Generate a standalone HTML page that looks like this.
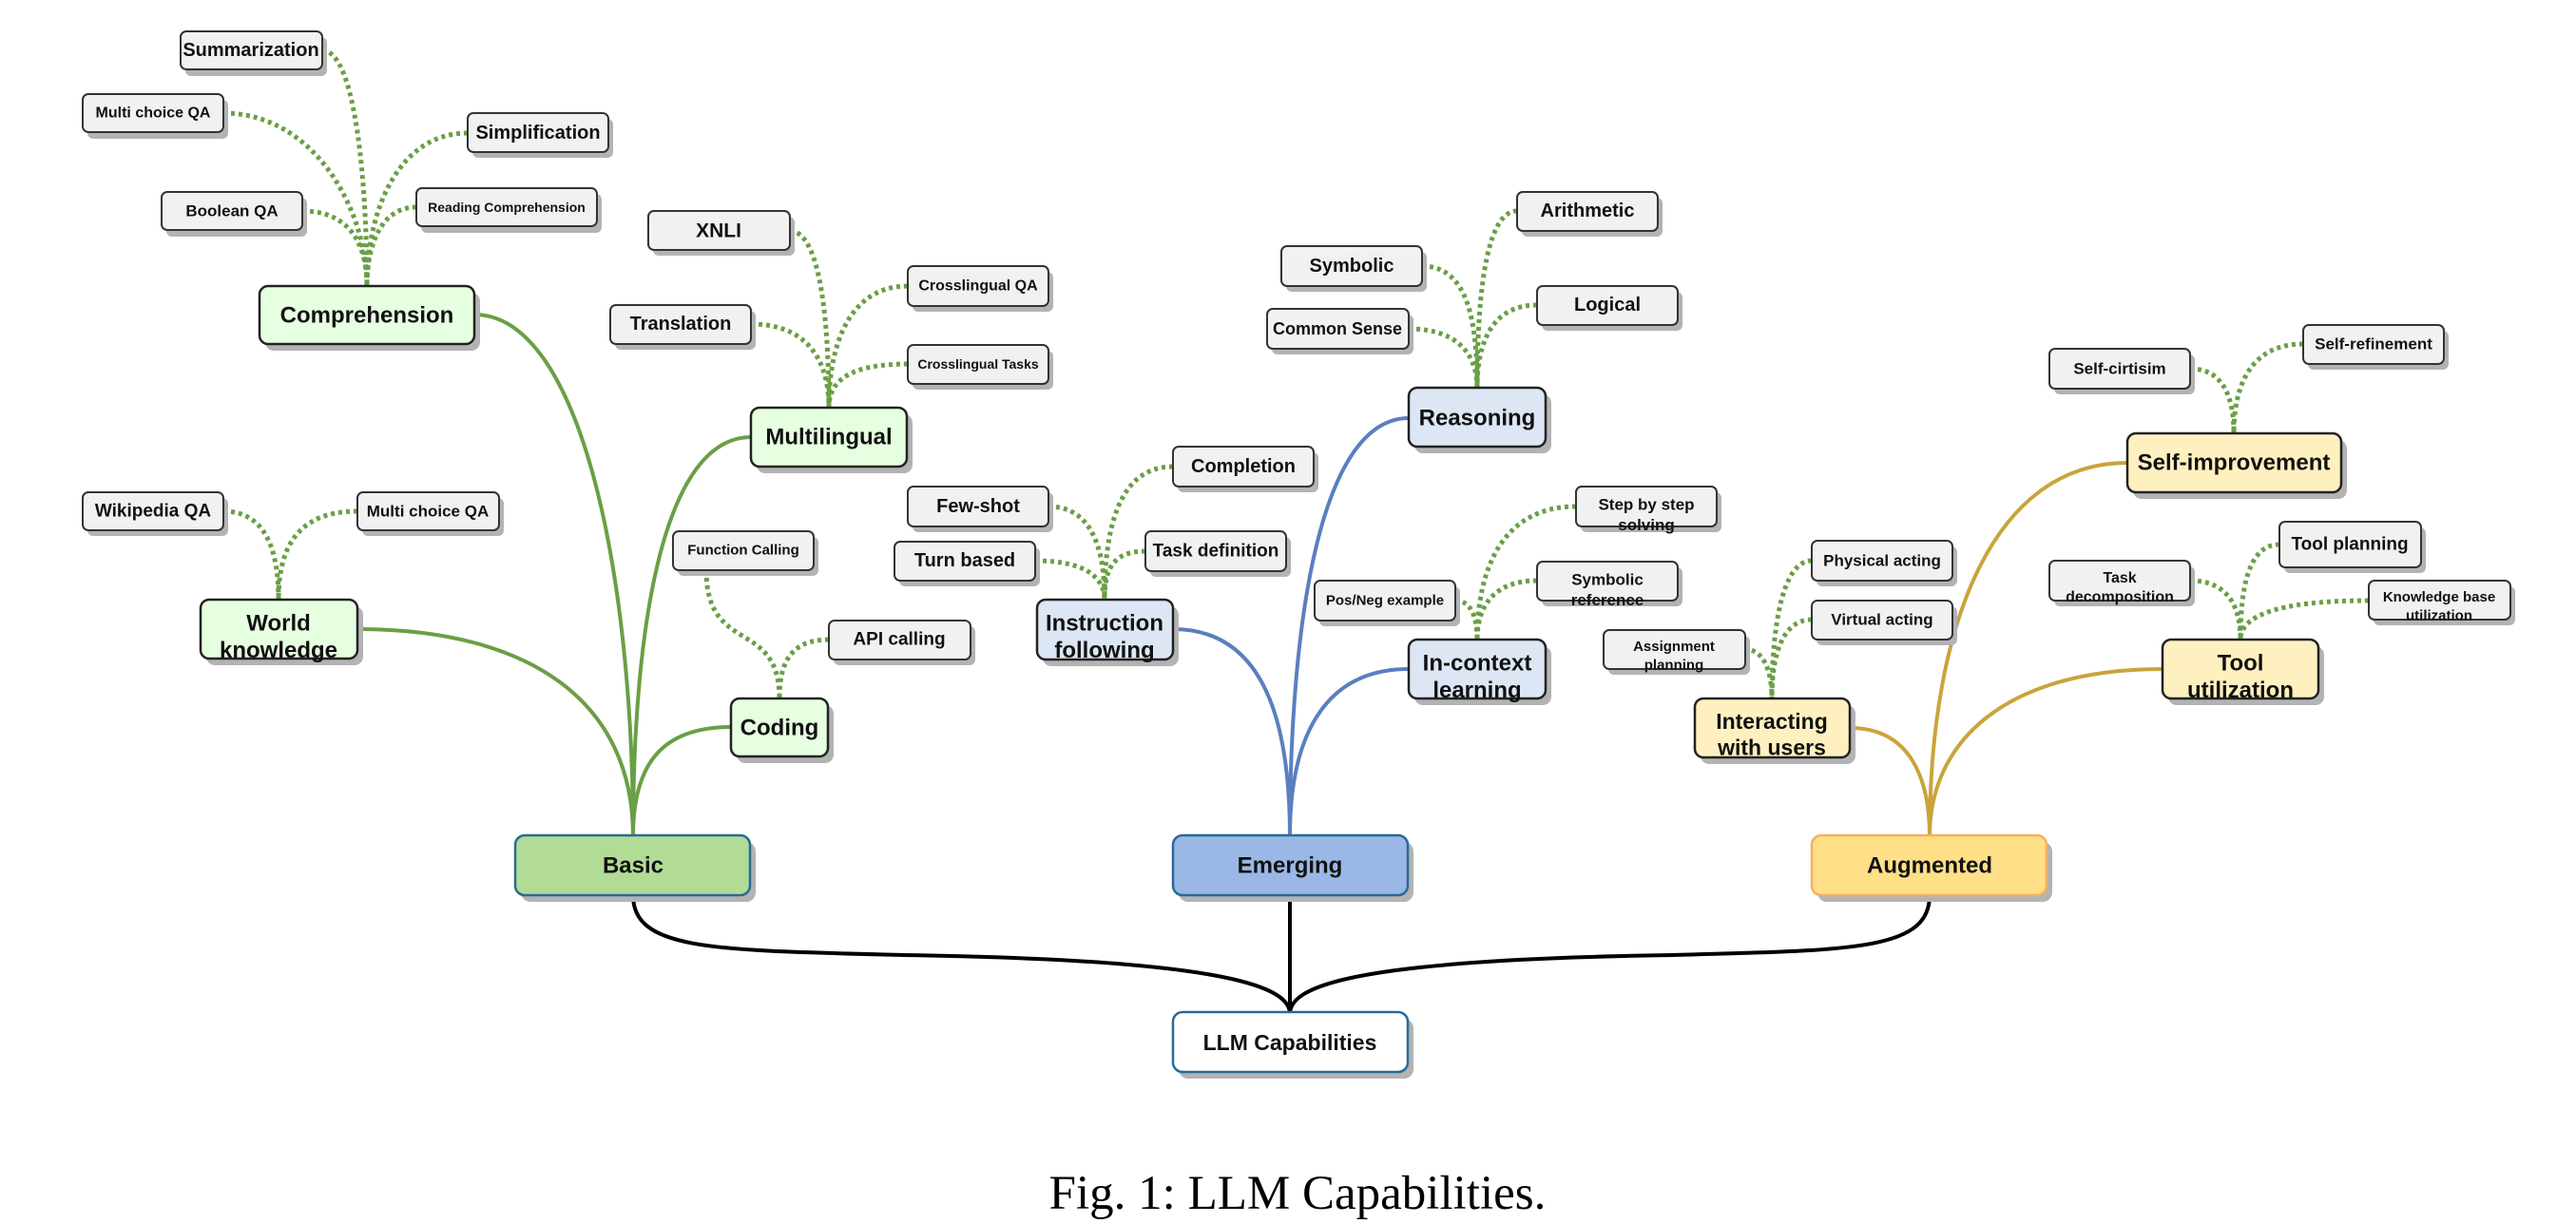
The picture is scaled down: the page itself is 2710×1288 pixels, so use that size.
<!DOCTYPE html>
<html><head><meta charset="utf-8"><style>
html,body{margin:0;padding:0;background:#fff;}
svg{display:block;}
text{font-family:"Liberation Sans",Arial,sans-serif;font-weight:bold;fill:#111;text-anchor:middle;dominant-baseline:central;}
.lf{fill:#f1f1f1;stroke:#333;stroke-width:2;}
.sh{fill:#b3b3b3;}
.g2{fill:#e6ffe0;stroke:#222;stroke-width:2.5;}
.b2{fill:#dde6f4;stroke:#222;stroke-width:2.5;}
.y2{fill:#fff0c0;stroke:#222;stroke-width:2.5;}
.dg{fill:none;stroke:#6a9f45;stroke-width:5;stroke-dasharray:4 4;}
.sg{fill:none;stroke:#6a9f45;stroke-width:4;}
.sb{fill:none;stroke:#5a7fbf;stroke-width:4;}
.sy{fill:none;stroke:#c9a43a;stroke-width:4;}
.k{fill:none;stroke:#000;stroke-width:4;}
</style></head><body>
<svg width="2710" height="1288" viewBox="0 0 2710 1288" xmlns="http://www.w3.org/2000/svg">

<!-- solid connectors -->
<path class="sg" d="M499 331 C610 331 666 600 666 880"/>
<path class="sg" d="M790 460 C700 460 666 650 666 880"/>
<path class="sg" d="M376 662 C560 662 666 740 666 880"/>
<path class="sg" d="M769 765 C700 765 666 800 666 880"/>
<path class="sb" d="M1482 440 C1390 440 1357 650 1357 880"/>
<path class="sb" d="M1234 662 C1330 662 1357 760 1357 880"/>
<path class="sb" d="M1482 704 C1390 704 1357 780 1357 880"/>
<path class="sy" d="M2238 487 C2100 487 2030 650 2030 880"/>
<path class="sy" d="M1946 766 C2010 766 2030 820 2030 880"/>
<path class="sy" d="M2275 704 C2110 704 2030 780 2030 880"/>
<path class="k" d="M666 942 C666 1000 750 1000 950 1005 C1300 1010 1357 1040 1357 1067"/>
<path class="k" d="M1357 942 L1357 1067"/>
<path class="k" d="M2030 942 C2030 1000 1950 1000 1760 1005 C1410 1010 1357 1040 1357 1067"/>

<!-- dotted connectors -->
<path class="dg" d="M339 53 C375 53 386 200 386 301"/>
<path class="dg" d="M235 119 C330 119 386 220 386 301"/>
<path class="dg" d="M492 140 C420 140 386 220 386 301"/>
<path class="dg" d="M318 222 C370 222 386 260 386 301"/>
<path class="dg" d="M438 218 C400 218 386 260 386 301"/>
<path class="dg" d="M831 243 C865 243 872 350 872 429"/>
<path class="dg" d="M790 341 C850 341 872 380 872 429"/>
<path class="dg" d="M955 301 C895 301 872 360 872 429"/>
<path class="dg" d="M955 383 C895 383 872 400 872 429"/>
<path class="dg" d="M235 538 C280 538 293 580 293 631"/>
<path class="dg" d="M376 538 C310 538 293 580 293 631"/>
<path class="dg" d="M743 600 C743 690 820 650 820 735"/>
<path class="dg" d="M872 673 C830 673 820 700 820 735"/>
<path class="dg" d="M1103 533 C1150 533 1162 580 1162 631"/>
<path class="dg" d="M1089 590 C1145 590 1162 610 1162 631"/>
<path class="dg" d="M1234 491 C1175 491 1162 560 1162 631"/>
<path class="dg" d="M1205 580 C1170 580 1162 600 1162 631"/>
<path class="dg" d="M1596 222 C1560 222 1554 330 1554 408"/>
<path class="dg" d="M1496 280 C1545 280 1554 340 1554 408"/>
<path class="dg" d="M1617 321 C1570 321 1554 360 1554 408"/>
<path class="dg" d="M1482 346 C1540 346 1554 380 1554 408"/>
<path class="dg" d="M1658 533 C1580 533 1554 600 1554 673"/>
<path class="dg" d="M1617 611 C1570 611 1554 640 1554 673"/>
<path class="dg" d="M1531 632 C1548 632 1554 650 1554 673"/>
<path class="dg" d="M1906 590 C1875 590 1864 660 1864 735"/>
<path class="dg" d="M1906 652 C1875 652 1864 690 1864 735"/>
<path class="dg" d="M1835 683 C1855 683 1864 705 1864 735"/>
<path class="dg" d="M2304 388 C2340 388 2350 420 2350 456"/>
<path class="dg" d="M2423 362 C2365 362 2350 410 2350 456"/>
<path class="dg" d="M2398 573 C2365 573 2357 620 2357 673"/>
<path class="dg" d="M2304 611 C2345 611 2357 640 2357 673"/>
<path class="dg" d="M2492 632 C2390 632 2357 650 2357 673"/>

<!-- leaves -->
<g>
<rect class="sh" x="195" y="39" width="149" height="41" rx="6"/><rect class="lf" x="190" y="33" width="149" height="40" rx="6"/><text x="264" y="53" font-size="20">Summarization</text>
<rect class="sh" x="92" y="105" width="148" height="41" rx="6"/><rect class="lf" x="87" y="99" width="148" height="40" rx="6"/><text x="161" y="119" font-size="16">Multi choice QA</text>
<rect class="sh" x="497" y="125" width="148" height="41" rx="6"/><rect class="lf" x="492" y="119" width="148" height="41" rx="6"/><text x="566" y="140" font-size="20">Simplification</text>
<rect class="sh" x="175" y="208" width="148" height="41" rx="6"/><rect class="lf" x="170" y="202" width="148" height="40" rx="6"/><text x="244" y="222" font-size="17">Boolean QA</text>
<rect class="sh" x="443" y="204" width="190" height="41" rx="6"/><rect class="lf" x="438" y="198" width="190" height="40" rx="6"/><text x="533" y="218" font-size="14">Reading Comprehension</text>
<rect class="sh" x="687" y="228" width="149" height="41" rx="6"/><rect class="lf" x="682" y="222" width="149" height="41" rx="6"/><text x="756" y="243" font-size="21">XNLI</text>
<rect class="sh" x="647" y="327" width="148" height="41" rx="6"/><rect class="lf" x="642" y="321" width="148" height="41" rx="6"/><text x="716" y="341" font-size="20">Translation</text>
<rect class="sh" x="960" y="286" width="148" height="42" rx="6"/><rect class="lf" x="955" y="280" width="148" height="42" rx="6"/><text x="1029" y="301" font-size="16">Crosslingual QA</text>
<rect class="sh" x="960" y="369" width="148" height="41" rx="6"/><rect class="lf" x="955" y="363" width="148" height="41" rx="6"/><text x="1029" y="383" font-size="14">Crosslingual Tasks</text>
<rect class="sh" x="92" y="524" width="148" height="40" rx="6"/><rect class="lf" x="87" y="518" width="148" height="40" rx="6"/><text x="161" y="538" font-size="19">Wikipedia QA</text>
<rect class="sh" x="381" y="524" width="149" height="40" rx="6"/><rect class="lf" x="376" y="518" width="149" height="40" rx="6"/><text x="450" y="538" font-size="17">Multi choice QA</text>
<rect class="sh" x="713" y="565" width="148" height="41" rx="6"/><rect class="lf" x="708" y="559" width="148" height="41" rx="6"/><text x="782" y="579" font-size="15">Function Calling</text>
<rect class="sh" x="877" y="659" width="149" height="41" rx="6"/><rect class="lf" x="872" y="653" width="149" height="41" rx="6"/><text x="946" y="673" font-size="19">API calling</text>
<rect class="sh" x="1239" y="476" width="148" height="42" rx="6"/><rect class="lf" x="1234" y="470" width="148" height="42" rx="6"/><text x="1308" y="491" font-size="20">Completion</text>
<rect class="sh" x="960" y="518" width="148" height="42" rx="6"/><rect class="lf" x="955" y="512" width="148" height="42" rx="6"/><text x="1029" y="533" font-size="20">Few-shot</text>
<rect class="sh" x="1210" y="565" width="148" height="42" rx="6"/><rect class="lf" x="1205" y="559" width="148" height="42" rx="6"/><text x="1279" y="580" font-size="19">Task definition</text>
<rect class="sh" x="946" y="576" width="148" height="41" rx="6"/><rect class="lf" x="941" y="570" width="148" height="41" rx="6"/><text x="1015" y="590" font-size="20">Turn based</text>
<rect class="sh" x="1601" y="208" width="148" height="41" rx="6"/><rect class="lf" x="1596" y="202" width="148" height="41" rx="6"/><text x="1670" y="222" font-size="20">Arithmetic</text>
<rect class="sh" x="1353" y="265" width="148" height="42" rx="6"/><rect class="lf" x="1348" y="259" width="148" height="42" rx="6"/><text x="1422" y="280" font-size="20">Symbolic</text>
<rect class="sh" x="1622" y="307" width="148" height="41" rx="6"/><rect class="lf" x="1617" y="301" width="148" height="41" rx="6"/><text x="1691" y="321" font-size="20">Logical</text>
<rect class="sh" x="1338" y="331" width="149" height="42" rx="6"/><rect class="lf" x="1333" y="325" width="149" height="42" rx="6"/><text x="1407" y="346" font-size="18">Common Sense</text>
<rect class="sh" x="1663" y="518" width="148" height="42" rx="6"/><rect class="lf" x="1658" y="512" width="148" height="42" rx="6"/><text x="1732" y="522" font-size="17" dominant-baseline="auto" dy="0"><tspan x="1732" dy="0.5em">Step by step</tspan><tspan x="1732" dy="1.25em">solving</tspan></text>
<rect class="sh" x="1622" y="597" width="148" height="41" rx="6"/><rect class="lf" x="1617" y="591" width="148" height="41" rx="6"/><text x="1691" y="601" font-size="17" dominant-baseline="auto"><tspan x="1691" dy="0.5em">Symbolic</tspan><tspan x="1691" dy="1.25em">reference</tspan></text>
<rect class="sh" x="1388" y="617" width="148" height="42" rx="6"/><rect class="lf" x="1383" y="611" width="148" height="42" rx="6"/><text x="1457" y="632" font-size="15">Pos/Neg example</text>
<rect class="sh" x="1692" y="669" width="149" height="41" rx="6"/><rect class="lf" x="1687" y="663" width="149" height="41" rx="6"/><text x="1761" y="673" font-size="15" dominant-baseline="auto"><tspan x="1761" dy="0.45em">Assignment</tspan><tspan x="1761" dy="1.3em">planning</tspan></text>
<rect class="sh" x="1911" y="575" width="148" height="42" rx="6"/><rect class="lf" x="1906" y="569" width="148" height="42" rx="6"/><text x="1980" y="590" font-size="17">Physical acting</text>
<rect class="sh" x="1911" y="638" width="148" height="41" rx="6"/><rect class="lf" x="1906" y="632" width="148" height="41" rx="6"/><text x="1980" y="652" font-size="17">Virtual acting</text>
<rect class="sh" x="2161" y="373" width="148" height="42" rx="6"/><rect class="lf" x="2156" y="367" width="148" height="42" rx="6"/><text x="2230" y="388" font-size="17">Self-cirtisim</text>
<rect class="sh" x="2428" y="348" width="148" height="41" rx="6"/><rect class="lf" x="2423" y="342" width="148" height="41" rx="6"/><text x="2497" y="362" font-size="17">Self-refinement</text>
<rect class="sh" x="2403" y="555" width="149" height="48" rx="6"/><rect class="lf" x="2398" y="549" width="149" height="48" rx="6"/><text x="2472" y="573" font-size="19">Tool planning</text>
<rect class="sh" x="2161" y="596" width="148" height="42" rx="6"/><rect class="lf" x="2156" y="590" width="148" height="42" rx="6"/><text x="2230" y="600" font-size="16" dominant-baseline="auto"><tspan x="2230" dy="0.5em">Task</tspan><tspan x="2230" dy="1.25em">decomposition</tspan></text>
<rect class="sh" x="2497" y="617" width="149" height="41" rx="6"/><rect class="lf" x="2492" y="611" width="149" height="41" rx="6"/><text x="2566" y="621" font-size="15" dominant-baseline="auto"><tspan x="2566" dy="0.45em">Knowledge base</tspan><tspan x="2566" dy="1.3em">utilization</tspan></text>
</g>

<!-- level 2 -->
<g>
<rect class="sh" x="279" y="308" width="226" height="61" rx="9"/><rect class="g2" x="273" y="301" width="226" height="61" rx="9"/><text x="386" y="332" font-size="24">Comprehension</text>
<rect class="sh" x="796" y="436" width="164" height="62" rx="9"/><rect class="g2" x="790" y="429" width="164" height="62" rx="9"/><text x="872" y="460" font-size="24">Multilingual</text>
<rect class="sh" x="217" y="638" width="165" height="62" rx="9"/><rect class="g2" x="211" y="631" width="165" height="62" rx="9"/><text x="293" y="647" font-size="24" dominant-baseline="auto"><tspan x="293" dy="0.35em">World</tspan><tspan x="293" dy="1.2em">knowledge</tspan></text>
<rect class="sh" x="775" y="742" width="102" height="61" rx="9"/><rect class="g2" x="769" y="735" width="102" height="61" rx="9"/><text x="820" y="766" font-size="24">Coding</text>
<rect class="sh" x="1488" y="415" width="144" height="62" rx="9"/><rect class="b2" x="1482" y="408" width="144" height="62" rx="9"/><text x="1554" y="440" font-size="24">Reasoning</text>
<rect class="sh" x="1097" y="638" width="143" height="63" rx="9"/><rect class="b2" x="1091" y="631" width="143" height="63" rx="9"/><text x="1162" y="647" font-size="24" dominant-baseline="auto"><tspan x="1162" dy="0.35em">Instruction</tspan><tspan x="1162" dy="1.2em">following</tspan></text>
<rect class="sh" x="1488" y="680" width="144" height="62" rx="9"/><rect class="b2" x="1482" y="673" width="144" height="62" rx="9"/><text x="1554" y="689" font-size="24" dominant-baseline="auto"><tspan x="1554" dy="0.35em">In-context</tspan><tspan x="1554" dy="1.2em">learning</tspan></text>
<rect class="sh" x="1789" y="742" width="163" height="62" rx="9"/><rect class="y2" x="1783" y="735" width="163" height="62" rx="9"/><text x="1864" y="751" font-size="23" dominant-baseline="auto"><tspan x="1864" dy="0.35em">Interacting</tspan><tspan x="1864" dy="1.2em">with users</tspan></text>
<rect class="sh" x="2244" y="463" width="225" height="62" rx="9"/><rect class="y2" x="2238" y="456" width="225" height="62" rx="9"/><text x="2350" y="487" font-size="24">Self-improvement</text>
<rect class="sh" x="2281" y="680" width="164" height="62" rx="9"/><rect class="y2" x="2275" y="673" width="164" height="62" rx="9"/><text x="2357" y="689" font-size="24" dominant-baseline="auto"><tspan x="2357" dy="0.35em">Tool</tspan><tspan x="2357" dy="1.2em">utilization</tspan></text>
</g>

<!-- level 1 -->
<g>
<rect class="sh" x="548" y="886" width="247" height="63" rx="10"/><rect x="542" y="879" width="247" height="63" rx="10" fill="#b2db95" stroke="#2a6a96" stroke-width="2.5"/><text x="666" y="911" font-size="24">Basic</text>
<rect class="sh" x="1240" y="886" width="247" height="63" rx="10"/><rect x="1234" y="879" width="247" height="63" rx="10" fill="#9ab7e5" stroke="#2a6a96" stroke-width="2.5"/><text x="1357" y="911" font-size="24">Emerging</text>
<rect class="sh" x="1912" y="886" width="247" height="63" rx="10"/><rect x="1906" y="879" width="247" height="63" rx="10" fill="#ffdf88" stroke="#f5b060" stroke-width="2.5"/><text x="2030" y="911" font-size="24">Augmented</text>
<rect class="sh" x="1240" y="1072" width="247" height="63" rx="10"/><rect x="1234" y="1065" width="247" height="63" rx="10" fill="#fff" stroke="#2a6a96" stroke-width="2.5"/><text x="1357" y="1097" font-size="23">LLM Capabilities</text>
</g>

<text x="1365" y="1256" font-size="51" dominant-baseline="auto" style="font-family:'Liberation Serif','Times New Roman',serif;font-weight:normal;fill:#000">Fig. 1: LLM Capabilities.</text>
</svg>
</body></html>
